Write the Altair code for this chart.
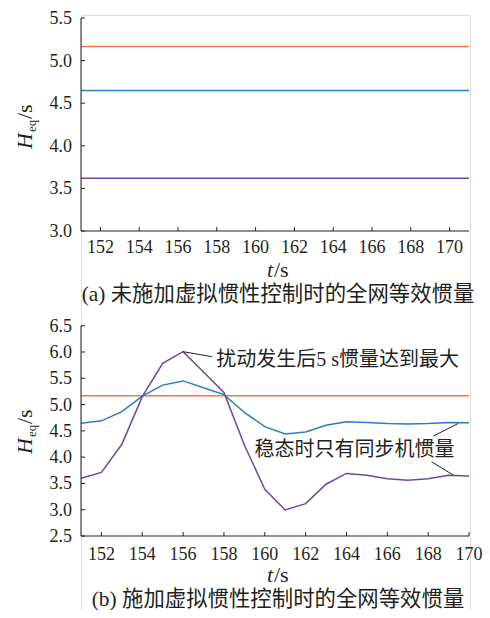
import altair as alt
import pandas as pd

# ---------------- data ----------------
t = list(range(151, 171))
# panel (b): with virtual inertia control
h_total_b = [4.645, 4.69, 4.865, 5.16, 5.37, 5.45, 5.32, 5.19, 4.85, 4.58,
             4.44, 4.48, 4.605, 4.675, 4.66, 4.64, 4.63, 4.64, 4.66, 4.655]
h_sync_b = [3.60, 3.71, 4.245, 5.15, 5.785, 6.006, 5.62, 5.23, 4.23, 3.39,
            2.996, 3.116, 3.485, 3.69, 3.655, 3.59, 3.56, 3.59, 3.655, 3.64]
h_ref_b = 5.17
# panel (a): without virtual inertia control (constant levels)
t_a = [151, 171]
h_ref_a = 5.165
h_total_a = 4.65
h_sync_a = 3.62

x_ticks = [152, 154, 156, 158, 160, 162, 164, 166, 168, 170]
y_ticks_a = [3.0, 3.5, 4.0, 4.5, 5.0, 5.5]
y_ticks_b = [2.5, 3.0, 3.5, 4.0, 4.5, 5.0, 5.5, 6.0, 6.5]

caption_a = "(a)  未施加虚拟惯性控制时的全网等效惯量"
caption_b = "(b)  施加虚拟惯性控制时的全网等效惯量"

ann1_text = "扰动发生后5 s惯量达到最大"
ann1_pos = (157.62, 5.85)
ann1_line = (156.0, 6.006, 157.42, 5.91)
ann2_text = "稳态时只有同步机惯量"
ann2_pos = (159.5, 4.14)
ann2_lines = [(168.25, 4.40, 169.47, 4.64), (168.17, 3.91, 169.23, 3.66)]

series = ["ref", "total", "sync"]
colors = ["#EE7B3C", "#2B7CC4", "#6B48A0"]

SERIF = "Liberation Serif, DejaVu Serif, serif"
MIX = "Liberation Serif, Noto Sans CJK SC, serif"
INK = "#231F20"

W = 389          # plot width of the combined view
H = 595          # total view height


def txt(label, x, y, **kw):
    return alt.Chart(pd.DataFrame({"s": [label]})).mark_text(
        color=INK, **kw).encode(text="s:N", x=alt.value(x), y=alt.value(y))


def panel(df, xdom, xrange, ydom, yrange, yticks, caption, ytitle_y,
          xlab_dy, extra=None):
    xs = alt.Scale(domain=xdom, range=xrange, nice=False, zero=False)
    ys = alt.Scale(domain=ydom, range=yrange, nice=False, zero=False)
    X = lambda f: alt.X(f, scale=xs, axis=None)
    Y = lambda f: alt.Y(f, scale=ys, axis=None)
    bottom = yrange[0]
    cx = 196

    lines = alt.Chart(df).mark_line(strokeWidth=1.5).encode(
        x=X("t:Q"), y=Y("H:Q"),
        color=alt.Color("series:N", scale=alt.Scale(domain=series, range=colors),
                        legend=None),
        order="t:Q",
    )
    frame = pd.DataFrame({"x0": [xdom[0]], "x1": [xdom[1]],
                          "y0": [ydom[0]], "y1": [ydom[1]]})
    yline = alt.Chart(frame).mark_rule(color=INK, strokeWidth=1).encode(
        x=alt.value(0), y=Y("y0:Q"), y2="y1:Q")
    xline = alt.Chart(frame).mark_rule(color=INK, strokeWidth=1).encode(
        x=X("x0:Q"), x2="x1:Q", y=Y("y0:Q"))
    xt_df = pd.DataFrame({"t": x_ticks, "lab": [str(v) for v in x_ticks]})
    xt = alt.Chart(xt_df).mark_rule(color=INK, strokeWidth=1).encode(
        x=X("t:Q"), y=alt.value(bottom), y2=alt.value(bottom - 4))
    xl = alt.Chart(xt_df).mark_text(
        font=SERIF, fontSize=18, color=INK, align="center",
        baseline="alphabetic").encode(
        x=X("t:Q"), y=alt.value(bottom + xlab_dy), text="lab:N")
    yt_df = pd.DataFrame({"H": yticks, "lab": [f"{v:.1f}" for v in yticks]})
    yt = alt.Chart(yt_df).mark_rule(color=INK, strokeWidth=1).encode(
        y=Y("H:Q"), x=alt.value(0), x2=alt.value(4))
    yl = alt.Chart(yt_df).mark_text(
        font=SERIF, fontSize=18, color=INK, align="right",
        baseline="alphabetic", dy=6).encode(
        y=Y("H:Q"), x=alt.value(-9), text="lab:N")

    ytitle = (
        txt("H", -49, ytitle_y, angle=270, align="left", baseline="alphabetic",
            font=SERIF, fontStyle="italic", fontSize=22)
        + txt("eq", -49, ytitle_y, angle=270, align="left",
              baseline="alphabetic", font=SERIF, fontSize=13, dx=17, dy=4)
        + txt("/s", -49, ytitle_y, angle=270, align="left",
              baseline="alphabetic", font=SERIF, fontSize=22, dx=30)
    )
    xtitle = (
        txt("t", cx - 4, bottom + 46, align="right", baseline="alphabetic",
            font=SERIF, fontStyle="italic", fontSize=22)
        + txt("/s", cx - 3, bottom + 46, align="left", baseline="alphabetic",
              font=SERIF, fontSize=22)
    )
    cap = txt(caption, cx + 1, bottom + 64, align="center", baseline="middle",
              font=MIX, fontSize=21.4)
    layers = [lines, yline, xline, xt, yt, xl, yl, ytitle, xtitle, cap]
    if extra is not None:
        layers += extra(X, Y)
    return alt.layer(*layers)


df_a = pd.DataFrame({
    "t": t_a * 3,
    "H": [h_ref_a] * 2 + [h_total_a] * 2 + [h_sync_a] * 2,
    "series": ["ref"] * 2 + ["total"] * 2 + ["sync"] * 2,
})
df_b = pd.DataFrame({
    "t": t * 3,
    "H": [h_ref_b] * len(t) + h_total_b + h_sync_b,
    "series": ["ref"] * len(t) + ["total"] * len(t) + ["sync"] * len(t),
})


def annotations(X, Y):
    rules = pd.DataFrame(
        [ann1_line] + ann2_lines, columns=["x1", "y1", "x2", "y2"])
    r = alt.Chart(rules).mark_rule(color=INK, strokeWidth=1).encode(
        x=X("x1:Q"), y=Y("y1:Q"), x2="x2:Q", y2="y2:Q")
    labels = pd.DataFrame({
        "x": [ann1_pos[0], ann2_pos[0]],
        "y": [ann1_pos[1], ann2_pos[1]],
        "s": [ann1_text, ann2_text]})
    tx = alt.Chart(labels).mark_text(
        align="left", baseline="middle", font=MIX, fontSize=20, color=INK
    ).encode(x=X("x:Q"), y=Y("y:Q"), text="s:N")
    return [r, tx]


top = panel(df_a, [151, 171], [0, 388], [3.0, 5.5], [216, 3], y_ticks_a,
            caption_a, 134, 22)
bottom = panel(df_b, [151, 170], [0, 388], [2.5, 6.5], [521, 310.7], y_ticks_b,
               caption_b, 439, 24, extra=annotations)

chart = alt.layer(top, bottom).resolve_scale(
    x="independent", y="independent"
).properties(
    width=W, height=H,
    autosize=alt.AutoSizeParams(type="none"),
    padding={"left": 73, "top": 7, "right": 12, "bottom": 0},
).configure_view(stroke=None).configure(background="white")

chart.save("out.html", embed_options={"renderer": "svg", "actions": False})
